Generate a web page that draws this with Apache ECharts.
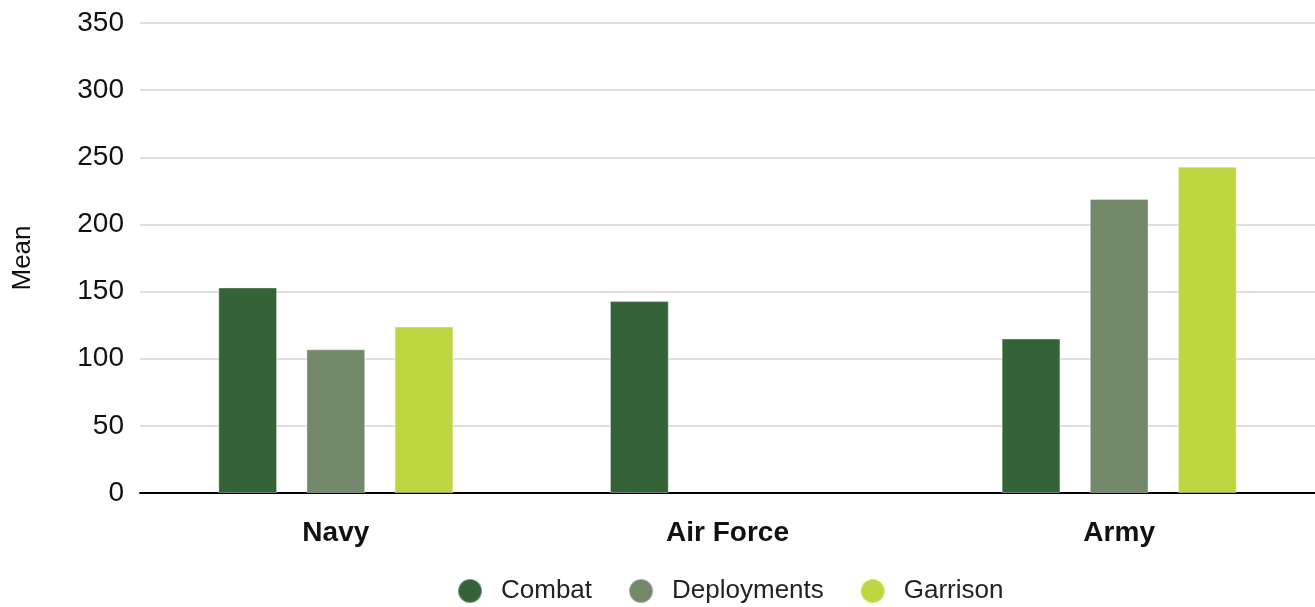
<!DOCTYPE html>
<html>
<head>
<meta charset="utf-8">
<style>
  html, body { margin: 0; padding: 0; background: #fff; }
  #chart { width: 1315px; height: 607px; }
</style>
<script src="https://cdn.jsdelivr.net/npm/echarts@6/dist/echarts.min.js"></script>
</head>
<body>
<div id="chart"></div>
<script>
const branches = ['Navy', 'Air Force', 'Army']
const combat = [153, 143, 115]
const deployments = [107, '-', 219]
const garrison = [124, '-', 243]
const yTicks = { min: 0, max: 350, interval: 50 }

const font = '"Liberation Sans", Arial, sans-serif'
const chart = echarts.init(document.getElementById('chart'))

function bar(name, data, color) {
  return {
    name,
    type: 'bar',
    data,
    barWidth: '15%',
    barGap: '50%',
    itemStyle: { color, borderColor: 'rgba(255,255,255,0.35)', borderWidth: 1 },
  }
}

chart.setOption({
  animation: false,
  textStyle: { fontFamily: font },
  grid: { left: 140, right: 0, top: 23, bottom: 114 },
  legend: {
    bottom: -2,
    left: 452,
    icon: 'circle',
    itemWidth: 24,
    itemHeight: 24,
    itemGap: 36,
    textStyle: { fontSize: 26, color: '#222', fontFamily: font, padding: [0, 0, 0, 14] },
  },
  xAxis: {
    type: 'category',
    data: branches,
    axisLine: { lineStyle: { color: '#000', width: 2 } },
    axisTick: { show: false },
    axisLabel: { fontSize: 28, fontWeight: 'bold', color: '#111', margin: 26 },
  },
  yAxis: {
    type: 'value',
    ...yTicks,
    name: 'Mean',
    nameLocation: 'middle',
    nameGap: 104,
    nameTextStyle: { fontSize: 26, color: '#111' },
    axisLine: { show: false },
    axisTick: { show: false },
    axisLabel: { fontSize: 28, color: '#111', margin: 16 },
    splitLine: { lineStyle: { color: '#d6d6d6', width: 1.5 } },
  },
  series: [
    bar('Combat', combat, '#356338'),
    bar('Deployments', deployments, '#74886a'),
    bar('Garrison', garrison, '#bed640'),
  ],
})
</script>
</body>
</html>
